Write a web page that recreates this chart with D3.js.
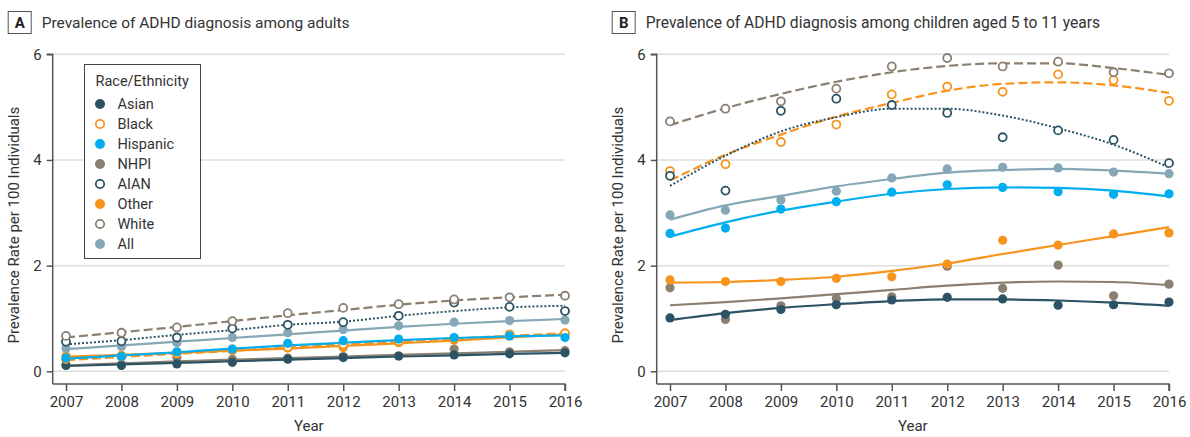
<!DOCTYPE html>
<html><head><meta charset="utf-8">
<script src="https://cdn.jsdelivr.net/npm/d3@7"></script>
<style>
body{margin:0;background:#fff}
svg{display:block}
text{font-family:Roboto, "Open Sans", sans-serif; fill:#333}
</style>
</head><body>
<svg id="c" width="1190" height="437"></svg>
<script>
const years = [2007, 2008, 2009, 2010, 2011, 2012, 2013, 2014, 2015, 2016];
const yTicks = [0, 2, 4, 6];
const groups = ["Asian", "Black", "Hispanic", "NHPI", "AIAN", "Other", "White", "All"];

// Panel A: adults (observed points and fitted trend)
const adultAsian     = [0.11, 0.11, 0.14, 0.17, 0.23, 0.26, 0.29, 0.31, 0.33, 0.35];
const adultAsianFit  = [0.10, 0.13, 0.16, 0.19, 0.22, 0.25, 0.28, 0.30, 0.33, 0.35];
const adultBlack     = [0.23, 0.28, 0.34, 0.40, 0.46, 0.51, 0.57, 0.62, 0.70, 0.72];
const adultBlackFit  = [0.21, 0.27, 0.33, 0.39, 0.45, 0.51, 0.56, 0.62, 0.67, 0.72];
const adultHisp      = [0.25, 0.28, 0.37, 0.42, 0.53, 0.58, 0.61, 0.64, 0.67, 0.64];
const adultHispFit   = [0.24, 0.30, 0.36, 0.43, 0.49, 0.54, 0.59, 0.63, 0.66, 0.68];
const adultNHPI      = [0.12, 0.13, 0.26, 0.23, 0.25, 0.28, 0.29, 0.42, 0.37, 0.39];
const adultNHPIFit   = [0.11, 0.15, 0.19, 0.22, 0.25, 0.28, 0.31, 0.34, 0.37, 0.40];
const adultAIAN      = [0.56, 0.57, 0.64, 0.81, 0.88, 0.93, 1.05, 1.30, 1.22, 1.14];
const adultAIANFit   = [0.51, 0.59, 0.69, 0.78, 0.88, 0.94, 1.05, 1.14, 1.21, 1.24];
const adultOther     = [0.29, 0.30, 0.35, 0.42, 0.44, 0.45, 0.54, 0.59, 0.67, 0.71];
const adultOtherFit  = [0.28, 0.31, 0.35, 0.39, 0.43, 0.48, 0.53, 0.58, 0.64, 0.70];
const adultWhite     = [0.67, 0.73, 0.83, 0.95, 1.10, 1.20, 1.27, 1.36, 1.40, 1.43];
const adultWhiteFit  = [0.64, 0.74, 0.84, 0.95, 1.06, 1.16, 1.26, 1.34, 1.40, 1.45];
const adultAll       = [0.43, 0.47, 0.54, 0.64, 0.73, 0.79, 0.86, 0.93, 0.96, 0.97];
const adultAllFit    = [0.42, 0.49, 0.56, 0.63, 0.70, 0.77, 0.84, 0.90, 0.95, 0.99];

// Panel B: children aged 5 to 11 years
const childAsian     = [1.01, 1.08, 1.17, 1.26, 1.35, 1.40, 1.37, 1.25, 1.26, 1.31];
const childAsianFit  = [0.97, 1.10, 1.20, 1.27, 1.33, 1.36, 1.36, 1.34, 1.30, 1.24];
const childBlack     = [3.79, 3.92, 4.34, 4.67, 5.24, 5.39, 5.29, 5.62, 5.51, 5.12];
const childBlackFit  = [3.61, 4.10, 4.48, 4.82, 5.08, 5.31, 5.44, 5.47, 5.41, 5.27];
const childHisp      = [2.61, 2.71, 3.07, 3.21, 3.39, 3.53, 3.48, 3.40, 3.35, 3.36];
const childHispFit   = [2.55, 2.82, 3.04, 3.21, 3.36, 3.45, 3.48, 3.47, 3.42, 3.31];
const childNHPI      = [1.58, 0.98, 1.24, 1.38, 1.41, 1.99, 1.57, 2.01, 1.43, 1.65];
const childNHPIFit   = [1.25, 1.31, 1.38, 1.46, 1.54, 1.62, 1.68, 1.70, 1.69, 1.63];
const childAIAN      = [3.70, 3.42, 4.93, 5.16, 5.04, 4.89, 4.43, 4.56, 4.38, 3.94];
const childAIANFit   = [3.51, 4.08, 4.54, 4.81, 4.97, 4.97, 4.84, 4.60, 4.29, 3.86];
const childOther     = [1.73, 1.70, 1.70, 1.76, 1.79, 2.03, 2.48, 2.39, 2.60, 2.62];
const childOtherFit  = [1.68, 1.69, 1.73, 1.79, 1.90, 2.04, 2.22, 2.39, 2.56, 2.73];
const childWhite     = [4.73, 4.97, 5.11, 5.35, 5.77, 5.93, 5.77, 5.86, 5.66, 5.64];
const childWhiteFit  = [4.66, 4.98, 5.25, 5.48, 5.66, 5.78, 5.83, 5.83, 5.74, 5.61];
const childAll       = [2.96, 3.05, 3.24, 3.41, 3.66, 3.83, 3.86, 3.85, 3.77, 3.74];
const childAllFit    = [2.87, 3.14, 3.32, 3.50, 3.64, 3.76, 3.81, 3.83, 3.80, 3.74];

const adultPts = [adultAsian, adultBlack, adultHisp, adultNHPI, adultAIAN, adultOther, adultWhite, adultAll];
const adultFit = [adultAsianFit, adultBlackFit, adultHispFit, adultNHPIFit, adultAIANFit, adultOtherFit, adultWhiteFit, adultAllFit];
const childPts = [childAsian, childBlack, childHisp, childNHPI, childAIAN, childOther, childWhite, childAll];
const childFit = [childAsianFit, childBlackFit, childHispFit, childNHPIFit, childAIANFit, childOtherFit, childWhiteFit, childAllFit];

const TEAL = "#2c5364", ORANGE = "#f7941d", BLUE = "#00aeef", TAUPE = "#8a7f71", GREYBLUE = "#86a7b6";
const styles = {
  Asian:    {color: TEAL,     open: false, dash: null},
  Black:    {color: ORANGE,   open: true,  dash: "9,4"},
  Hispanic: {color: BLUE,     open: false, dash: null},
  NHPI:     {color: TAUPE,    open: false, dash: null},
  AIAN:     {color: TEAL,     open: true,  dash: "2,2"},
  Other:    {color: ORANGE,   open: false, dash: null},
  White:    {color: TAUPE,    open: true,  dash: "9,4"},
  All:      {color: GREYBLUE, open: false, dash: null}
};
const drawOrder = ["NHPI", "Asian", "Other", "Black", "Hispanic", "All", "AIAN", "White"];

const svg = d3.select("#c");

function panel(opts) {
  const {axisX, x0, x1, letter, title, titleWidth, pts, fit, legend} = opts;
  const yTop = 54.3, yZero = 371.3, axisY = 384;
  const x = d3.scaleLinear().domain([2007, 2016]).range([x0, x1]);
  const y = d3.scaleLinear().domain([0, 6]).range([yZero, yTop]);
  const g = svg.append("g");

  // title
  g.append("rect").attr("x", axisX - 44.5).attr("y", 11.5).attr("width", 23).attr("height", 22)
    .attr("fill", "#fff").attr("stroke", "#555").attr("stroke-width", 1);
  g.append("text").attr("x", axisX - 33).attr("y", 28).attr("text-anchor", "middle")
    .attr("font-size", 15).attr("font-weight", "bold").style("fill", "#222").text(letter);
  const tt = g.append("text").attr("x", axisX - 11).attr("y", 27.5).attr("font-size", 17).style("fill", "#333").text(title);
  const w = tt.node().getComputedTextLength();
  if (w > 0) tt.attr("font-size", Math.min(18, Math.max(15, 17 * titleWidth / w)));

  // gridlines
  g.selectAll(".grid").data(yTicks).enter().append("line")
    .attr("x1", axisX).attr("x2", x1).attr("y1", d => y(d)).attr("y2", d => y(d))
    .attr("stroke", "#dedede").attr("stroke-width", 1.5);

  // y axis
  const ya = g.append("g").attr("transform", `translate(${axisX},0)`)
    .call(d3.axisLeft(y).tickValues(yTicks).tickSize(6).tickPadding(5).tickFormat(d3.format("d")));
  ya.select(".domain").attr("d", `M-6,${yTop}H0V${axisY}`).attr("stroke", "#555").attr("stroke-width", 1.5);
  ya.selectAll(".tick line").attr("stroke", "#555").attr("stroke-width", 1.5);
  ya.selectAll(".tick text").attr("font-size", 15).style("fill", "#333").style("font-family", "Roboto, sans-serif");

  // x axis
  const xa = g.append("g").attr("transform", `translate(0,${axisY})`)
    .call(d3.axisBottom(x).tickValues(years).tickSize(7).tickPadding(5).tickFormat(d3.format("d")));
  xa.select(".domain").attr("d", `M${axisX},0H${x1}V7`).attr("stroke", "#555").attr("stroke-width", 1.5);
  xa.selectAll(".tick line").attr("stroke", "#555").attr("stroke-width", 1.5);
  xa.selectAll(".tick text").attr("font-size", 15).style("fill", "#333").style("font-family", "Roboto, sans-serif");

  // axis titles
  g.append("text").attr("transform", `translate(${axisX - 34},${(yTop + axisY) / 2 + 6}) rotate(-90)`)
    .attr("text-anchor", "middle").attr("font-size", 15).style("fill", "#333").text("Prevalence Rate per 100 Individuals");
  g.append("text").attr("x", (axisX + x1) / 2).attr("y", 431).attr("text-anchor", "middle")
    .attr("font-size", 15).style("fill", "#333").text("Year");

  const line = d3.line().x((d, i) => x(years[i])).y(d => y(d)).curve(d3.curveMonotoneX);

  // fitted lines
  drawOrder.forEach(name => {
    const k = groups.indexOf(name), s = styles[name];
    g.append("path").datum(fit[k]).attr("d", line).attr("fill", "none")
      .attr("stroke", s.color).attr("stroke-width", s.dash === "2,2" ? 2 : 2.2)
      .attr("stroke-dasharray", s.dash);
  });
  // points
  drawOrder.forEach(name => {
    const k = groups.indexOf(name), s = styles[name];
    g.selectAll(null).data(pts[k]).enter().append("circle")
      .attr("cx", (d, i) => x(years[i])).attr("cy", d => y(d))
      .attr("r", s.open ? 4 : 4.6)
      .attr("fill", s.open ? "#fff" : s.color)
      .attr("stroke", s.open ? s.color : "none")
      .attr("stroke-width", s.open ? 1.8 : 0);
  });

  if (legend) {
    const lg = g.append("g");
    lg.append("rect").attr("x", 84.5).attr("y", 64.5).attr("width", 116).attr("height", 194)
      .attr("fill", "#fff").attr("stroke", "#444").attr("stroke-width", 1);
    lg.append("text").attr("x", 95.5).attr("y", 86).attr("font-size", 14.5).style("fill", "#333").text("Race/Ethnicity");
    groups.forEach((name, i) => {
      const s = styles[name], cy = 104 + i * 20;
      lg.append("circle").attr("cx", 100).attr("cy", cy).attr("r", s.open ? 4.2 : 5)
        .attr("fill", s.open ? "#fff" : s.color).attr("stroke", s.open ? s.color : "none").attr("stroke-width", 1.8);
      lg.append("text").attr("x", 117.5).attr("y", cy + 5).attr("font-size", 14.5).style("fill", "#333").text(name);
    });
  }
}

panel({axisX: 52.7, x0: 66, x1: 565, letter: "A", title: "Prevalence of ADHD diagnosis among adults", titleWidth: 308,
       pts: adultPts, fit: adultFit, legend: true});
panel({axisX: 656.7, x0: 670, x1: 1169, letter: "B", title: "Prevalence of ADHD diagnosis among children aged 5 to 11 years", titleWidth: 455,
       pts: childPts, fit: childFit, legend: false});
</script>
</body></html>
